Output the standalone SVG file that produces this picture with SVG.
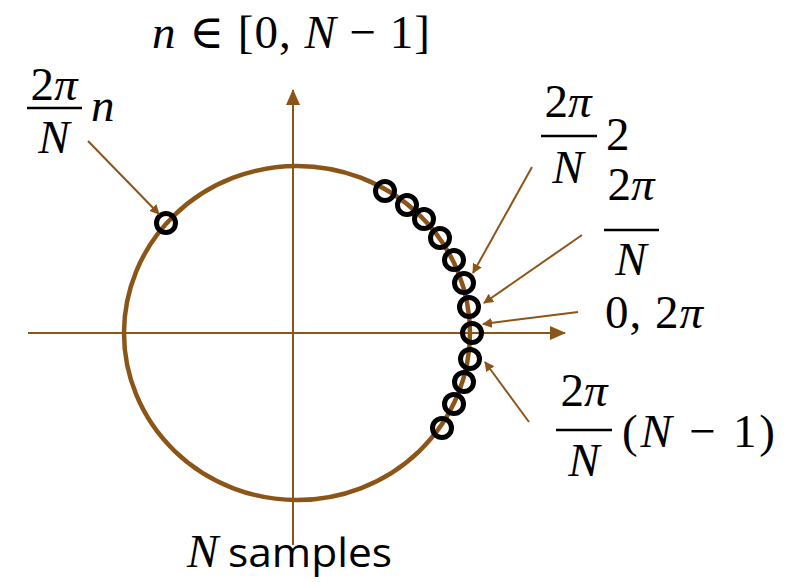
<svg xmlns="http://www.w3.org/2000/svg" width="791" height="582" viewBox="0 0 791 582">
<defs>
<marker id="ah" markerWidth="10" markerHeight="10" refX="9" refY="5" orient="auto" markerUnits="userSpaceOnUse" viewBox="0 0 10 10">
<path d="M0,0 L10,5 L0,10 Z" fill="#8B5518"/>
</marker>
<marker id="ax" markerWidth="16" markerHeight="14" refX="15" refY="7" orient="auto" markerUnits="userSpaceOnUse" viewBox="0 0 16 14">
<path d="M0,0 L16,7 L0,14 Z" fill="#8B5518"/>
</marker>
</defs>
<style>
.ax{stroke:#8B5518;stroke-width:2;fill:none}
.ring{stroke:#8B5518;stroke-width:4.5;fill:none}
.s{stroke:#000;stroke-width:5;fill:none}
.ar{stroke:#8B5518;stroke-width:2;fill:none;marker-end:url(#ah)}
.m{font-family:"Liberation Serif","DejaVu Serif",serif;font-size:47px;fill:#000}
.i{font-style:italic}
.fr{stroke:#000;stroke-width:2.5}
.t{font-family:"Open Sans","Liberation Sans",sans-serif;font-size:40px;fill:#000}
</style>
<g id="axes">
<line class="ax" x1="28" y1="333" x2="565" y2="333" marker-end="url(#ax)"/>
<line class="ax" x1="293" y1="545" x2="293" y2="90" marker-end="url(#ax)"/>
</g>
<g id="unit-circle">
<ellipse class="ring" cx="297" cy="333" rx="173" ry="167"/>
</g>
<g id="samples">
<circle class="s" cx="166" cy="223" r="9.5"/>
<circle class="s" cx="385" cy="191" r="9.5"/>
<circle class="s" cx="407" cy="205" r="9.5"/>
<circle class="s" cx="424" cy="219" r="9.5"/>
<circle class="s" cx="440" cy="238" r="9.5"/>
<circle class="s" cx="454" cy="260" r="9.5"/>
<circle class="s" cx="464" cy="283" r="9.5"/>
<circle class="s" cx="469" cy="307" r="9.5"/>
<circle class="s" cx="472" cy="333" r="9.5"/>
<circle class="s" cx="470" cy="359" r="9.5"/>
<circle class="s" cx="464" cy="382" r="9.5"/>
<circle class="s" cx="454" cy="404" r="9.5"/>
<circle class="s" cx="442" cy="428" r="9.5"/>
</g>
<g id="connectors">
<line class="ar" x1="88" y1="141" x2="159" y2="214"/>
<line class="ar" x1="532" y1="167" x2="473" y2="273"/>
<line class="ar" x1="582" y1="235" x2="484" y2="303"/>
<line class="ar" x1="578" y1="312" x2="483" y2="324"/>
<line class="ar" x1="529" y1="422" x2="485" y2="362"/>
</g>
<g id="label-range">
<text class="m" x="152" y="48" textLength="278" lengthAdjust="spacing"><tspan class="i">n</tspan> ∈ [0, <tspan class="i">N</tspan> − 1]</text>
</g>
<g id="label-n">
<text class="m" x="54" y="100" text-anchor="middle">2<tspan class="i">π</tspan></text>
<line class="fr" x1="27" y1="108" x2="82" y2="108"/>
<text class="m i" x="54" y="153" text-anchor="middle">N</text>
<text class="m i" x="91" y="121">n</text>
</g>
<g id="label-2">
<text class="m" x="568" y="117" text-anchor="middle">2<tspan class="i">π</tspan></text>
<line class="fr" x1="541" y1="136" x2="597" y2="136"/>
<text class="m i" x="568" y="183" text-anchor="middle">N</text>
<text class="m" x="606" y="150">2</text>
</g>
<g id="label-1">
<text class="m" x="631" y="200" text-anchor="middle">2<tspan class="i">π</tspan></text>
<line class="fr" x1="604" y1="230" x2="659" y2="230"/>
<text class="m i" x="631" y="275" text-anchor="middle">N</text>
</g>
<g id="label-0">
<text class="m" x="605" y="328" textLength="98" lengthAdjust="spacing">0, 2<tspan class="i">π</tspan></text>
</g>
<g id="label-last">
<text class="m" x="584" y="406" text-anchor="middle">2<tspan class="i">π</tspan></text>
<line class="fr" x1="556" y1="430" x2="612" y2="430"/>
<text class="m i" x="584" y="476" text-anchor="middle">N</text>
<text class="m" x="622" y="447" textLength="153" lengthAdjust="spacing">(<tspan class="i">N</tspan> − 1)</text>
</g>
<g id="label-samples">
<text class="m i" x="187" y="567">N</text>
<text class="t" x="228" y="567" textLength="164" lengthAdjust="spacingAndGlyphs">samples</text>
</g>
</svg>
